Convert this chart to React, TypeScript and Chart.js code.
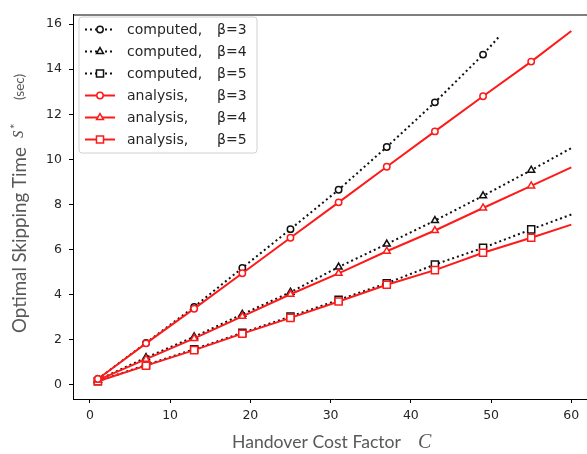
import React, { useEffect, useRef } from 'react';
import { Chart, registerables } from 'chart.js';

Chart.register(...registerables);

// ---- data ----
const markerX = [1, 7, 13, 19, 25, 31, 37, 43, 49, 55];

const computedB3X = [1, 7, 13, 19, 25, 31, 37, 43, 49, 51];
const computedB3Y = [0.25, 1.85, 3.45, 5.18, 6.9, 8.65, 10.55, 12.53, 14.65, 15.45];

const computedB4X = [1, 7, 13, 19, 25, 31, 37, 43, 49, 55, 60];
const computedB4Y = [0.2, 1.2, 2.12, 3.12, 4.1, 5.22, 6.24, 7.28, 8.38, 9.52, 10.5];

const computedB5X = [1, 7, 13, 19, 25, 31, 37, 43, 49, 55, 60];
const computedB5Y = [0.15, 0.87, 1.57, 2.3, 3.02, 3.76, 4.5, 5.33, 6.07, 6.89, 7.55];

const analysisB3X = [1, 7, 13, 19, 25, 31, 37, 43, 49, 55, 60];
const analysisB3Y = [0.25, 1.83, 3.37, 4.94, 6.52, 8.09, 9.67, 11.24, 12.8, 14.34, 15.7];

const analysisB4X = [1, 7, 13, 19, 25, 31, 37, 43, 49, 55, 60];
const analysisB4Y = [0.2, 1.13, 2.05, 3.03, 4.01, 4.94, 5.92, 6.84, 7.84, 8.82, 9.64];

const analysisB5X = [1, 7, 13, 19, 25, 31, 37, 43, 49, 55, 60];
const analysisB5Y = [0.15, 0.84, 1.53, 2.26, 2.96, 3.69, 4.43, 5.08, 5.85, 6.52, 7.1];

const xTickValues = [0, 10, 20, 30, 40, 50, 60];
const yTickValues = [0, 2, 4, 6, 8, 10, 12, 14, 16];

const legendNames = ['computed,', 'computed,', 'computed,', 'analysis,', 'analysis,', 'analysis,'];
const legendBetas = ['β=3', 'β=4', 'β=5', 'β=3', 'β=4', 'β=5'];

const xTitle = 'Handover Cost Factor';
const xTitleVar = 'C';
const yTitle = 'Optimal Skipping Time';
const yTitleVar = 's';
const yTitleSup = '*';
const yTitleUnit = '(sec)';

// ---- styles ----
const RED = '#ff1a1a';
const BLACK = '#111111';
const TEXT = '#262626';
const LABEL = '#595959';

type Style = { color: string; dash: number[]; shape: string; r: number };
const styles: Style[] = [
  { color: BLACK, dash: [2, 3], shape: 'circle', r: 3.2 },
  { color: BLACK, dash: [2, 3], shape: 'triangle', r: 4 },
  { color: BLACK, dash: [2, 3], shape: 'rect', r: 5 },
  { color: RED, dash: [], shape: 'circle', r: 3.2 },
  { color: RED, dash: [], shape: 'triangle', r: 4 },
  { color: RED, dash: [], shape: 'rect', r: 5 },
];

const seriesXs = [computedB3X, computedB4X, computedB5X, analysisB3X, analysisB4X, analysisB5X];
const seriesYs = [computedB3Y, computedB4Y, computedB5Y, analysisB3Y, analysisB4Y, analysisB5Y];

function drawMarker(ctx: CanvasRenderingContext2D, shape: string, x: number, y: number, r: number) {
  ctx.beginPath();
  if (shape === 'circle') {
    ctx.arc(x, y, r, 0, Math.PI * 2);
  } else if (shape === 'triangle') {
    let rad = 0;
    ctx.moveTo(x + Math.sin(rad) * r, y - Math.cos(rad) * r);
    rad += (2 * Math.PI) / 3;
    ctx.lineTo(x + Math.sin(rad) * r, y - Math.cos(rad) * r);
    rad += (2 * Math.PI) / 3;
    ctx.lineTo(x + Math.sin(rad) * r, y - Math.cos(rad) * r);
    ctx.closePath();
  } else {
    const s = Math.SQRT1_2 * r;
    ctx.rect(x - s, y - s, 2 * s, 2 * s);
  }
  ctx.fill();
  ctx.stroke();
}

function fitFont(ctx: CanvasRenderingContext2D, text: string, family: string, target: number, style = '') {
  ctx.font = `${style} 19px ${family}`;
  const w = ctx.measureText(text).width;
  return (19 * target) / w;
}

const decorPlugin = {
  id: 'decor',
  afterDraw(chart: any) {
    const ctx: CanvasRenderingContext2D = chart.ctx;
    const area = chart.chartArea;
    ctx.save();
    // top spine
    ctx.strokeStyle = '#000';
    ctx.lineWidth = 1;
    ctx.beginPath();
    ctx.moveTo(area.left, area.top + 0.5);
    ctx.lineTo(area.right, area.top + 0.5);
    ctx.moveTo(area.right - 0.5, area.top);
    ctx.lineTo(area.right - 0.5, area.bottom);
    ctx.stroke();

    // legend
    const lx = 79, ly = 17, lw = 178, lh = 136, rr = 3;
    ctx.beginPath();
    ctx.moveTo(lx + rr, ly);
    ctx.lineTo(lx + lw - rr, ly);
    ctx.quadraticCurveTo(lx + lw, ly, lx + lw, ly + rr);
    ctx.lineTo(lx + lw, ly + lh - rr);
    ctx.quadraticCurveTo(lx + lw, ly + lh, lx + lw - rr, ly + lh);
    ctx.lineTo(lx + rr, ly + lh);
    ctx.quadraticCurveTo(lx, ly + lh, lx, ly + lh - rr);
    ctx.lineTo(lx, ly + rr);
    ctx.quadraticCurveTo(lx, ly, lx + rr, ly);
    ctx.closePath();
    ctx.fillStyle = 'rgba(255,255,255,0.85)';
    ctx.fill();
    ctx.strokeStyle = '#d0d0d0';
    ctx.lineWidth = 1;
    ctx.stroke();

    ctx.font = '14px "DejaVu Sans"';
    ctx.textBaseline = 'middle';
    ctx.textAlign = 'left';
    for (let i = 0; i < 6; i++) {
      const st = styles[i];
      const cy = 29.5 + i * 22;
      ctx.strokeStyle = st.color;
      ctx.lineWidth = 2;
      ctx.setLineDash(st.dash);
      ctx.beginPath();
      ctx.moveTo(85, cy);
      ctx.lineTo(115, cy);
      ctx.stroke();
      ctx.setLineDash([]);
      ctx.lineWidth = 1.5;
      ctx.fillStyle = '#fff';
      drawMarker(ctx, st.shape, 100, cy, st.r);
      ctx.fillStyle = TEXT;
      ctx.fillText(legendNames[i], 127, cy + 1);
      ctx.fillText(legendBetas[i], 217, cy + 1);
    }

    // x title
    ctx.fillStyle = LABEL;
    ctx.textBaseline = 'alphabetic';
    const xs = fitFont(ctx, xTitle, 'Lato', 169);
    ctx.font = `${xs}px Lato`;
    ctx.fillText(xTitle, 232, 448);
    ctx.font = 'italic 20px "Liberation Serif"';
    ctx.fillText(xTitleVar, 418, 448);

    // y title (rotated)
    ctx.save();
    ctx.translate(26, 333);
    ctx.rotate(-Math.PI / 2);
    const ys = fitFont(ctx, yTitle, 'Lato', 186);
    ctx.font = `${ys}px Lato`;
    ctx.fillText(yTitle, 0, 0);
    ctx.font = 'italic 20px "Liberation Serif"';
    ctx.fillText(yTitleVar, 195, -3);
    ctx.font = '13px Lato';
    ctx.fillText(yTitleSup, 204, -6);
    ctx.font = '13.5px Lato';
    ctx.fillText(yTitleUnit, 233, -2);
    ctx.restore();

    ctx.restore();
  },
};

export default function App() {
  const ref = useRef<HTMLCanvasElement>(null);
  useEffect(() => {
    if (!ref.current) return;
    const datasets = styles.map((st, i) => ({
      data: seriesXs[i].map((x, j) => ({ x, y: seriesYs[i][j] })),
      showLine: true,
      borderColor: st.color,
      borderWidth: 2,
      borderDash: st.dash,
      pointStyle: st.shape,
      pointRadius: (c: any) => (markerX.includes(c.raw?.x) ? st.r : 0),
      pointBorderWidth: 1.5,
      pointBorderColor: st.color,
      pointBackgroundColor: '#fff',
      order: i < 3 ? 1 : 0,
    }));
    const chart = new Chart(ref.current, {
      type: 'scatter',
      data: { datasets },
      options: {
        animation: false,
        responsive: false,
        devicePixelRatio: 1,
        events: [],
        layout: { padding: { top: 12, right: 15, left: 0, bottom: 0 } },
        plugins: { legend: { display: false }, tooltip: { enabled: false } },
        scales: {
          x: {
            type: 'linear',
            min: -2.1,
            max: 62.95,
            afterFit: (s: any) => { s.height = 55; },
            afterBuildTicks: (s: any) => { s.ticks = xTickValues.map((v) => ({ value: v })); },
            grid: { drawOnChartArea: false, drawTicks: true, tickLength: 4, color: '#000', lineWidth: 1 },
            border: { display: true, color: '#000', width: 1 },
            ticks: { font: { family: 'DejaVu Sans', size: 12.5 }, color: TEXT, padding: 5, maxRotation: 0 },
          },
          y: {
            type: 'linear',
            min: -0.64,
            max: 16.43,
            afterFit: (s: any) => { s.width = 73; },
            afterBuildTicks: (s: any) => { s.ticks = yTickValues.map((v) => ({ value: v })); },
            grid: { drawOnChartArea: false, drawTicks: true, tickLength: 4, color: '#000', lineWidth: 1 },
            border: { display: true, color: '#000', width: 1 },
            ticks: { font: { family: 'DejaVu Sans', size: 12.5 }, color: TEXT, padding: 7 },
          },
        },
      },
      plugins: [decorPlugin],
    } as any);
    return () => chart.destroy();
  }, []);
  return (
    <div style={{ position: 'fixed', left: 0, top: 0, width: 587, height: 454, overflow: 'hidden', background: '#fff' }}>
      <canvas ref={ref} width={610} height={454} style={{ display: 'block' }} />
    </div>
  );
}
